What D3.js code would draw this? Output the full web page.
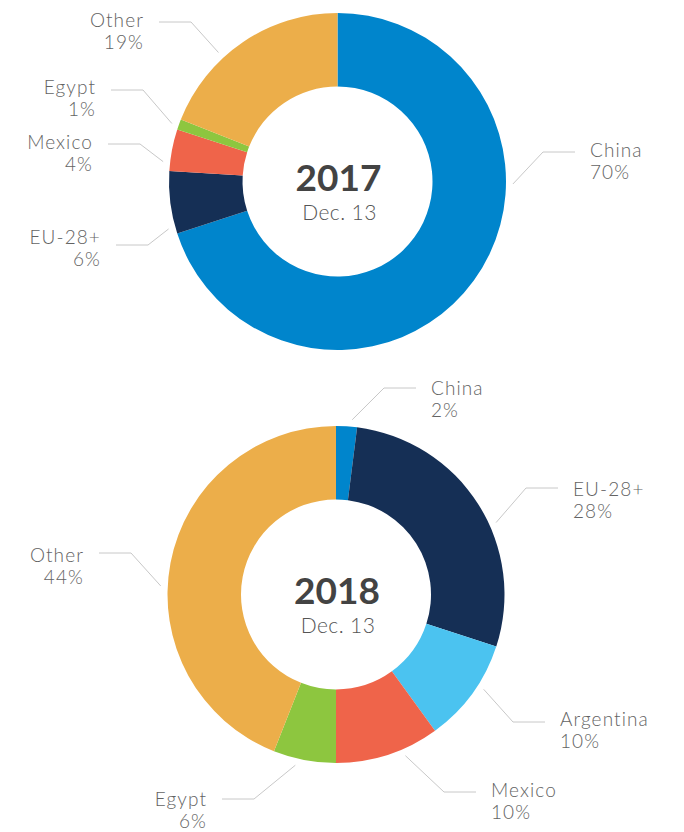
<!DOCTYPE html>
<html lang="en">
	<head>
		<meta charset="utf-8">
		<title>Donuts: 2017 vs 2018</title>
		<script type="text/javascript" src="https://cdn.jsdelivr.net/npm/d3@7"></script>
		<style type="text/css">
			body {
				margin: 0;
				background: #fff;
			}
			text {
				font-family: Lato, "Open Sans", sans-serif;
			}
			.lbl {
				font-size: 19px;
				font-weight: 300;
				letter-spacing: 1.1px;
				fill: #636363;
			}
			.year {
				font-size: 37px;
				font-weight: 700;
				fill: #434343;
				text-anchor: middle;
			}
			.date {
				font-size: 21px;
				font-weight: 300;
				letter-spacing: 0.4px;
				fill: #555;
				text-anchor: middle;
			}
			.leader {
				fill: none;
				stroke: #c8c8c8;
				stroke-width: 1;
			}
		</style>
	</head>
	<body>
		<script type="text/javascript">

			var w = 684;
			var h = 832;

			// data
			var years = ["2017", "2018"];
			var dateLabel = "Dec. 13";
			var countries2017 = ["China", "EU-28+", "Mexico", "Egypt", "Other"];
			var shares2017 = [70, 6, 4, 1, 19];
			var countries2018 = ["China", "EU-28+", "Argentina", "Mexico", "Egypt", "Other"];
			var shares2018 = [2, 28, 10, 10, 6, 44];

			var colors = d3.scaleOrdinal()
				.domain(["China", "EU-28+", "Argentina", "Mexico", "Egypt", "Other"])
				.range(["#0085cc", "#152f55", "#4bc3f0", "#ef644a", "#8dc63f", "#ecae4a"]);

			// label layout: leader angle (deg), text x, first baseline, leader y
			var layout2017 = [
				{a: 90.8, x: 590, y: 157, ly: 152},
				{a: 254.3, x: 101, y: 244, ly: 245},
				{a: 276.5, x: 93, y: 149, ly: 144},
				{a: 289.3, x: 96, y: 94, ly: 90},
				{a: 317.3, x: 144, y: 27, ly: 22}
			];
			var layout2018 = [
				{a: 5.3, x: 431, y: 395, ly: 388},
				{a: 65.8, x: 573, y: 496, ly: 488},
				{a: 122.7, x: 560, y: 726, ly: 722},
				{a: 156.7, x: 491, y: 797, ly: 792},
				{a: 193.4, x: 207, y: 806, ly: 799},
				{a: 272.8, x: 84, y: 562, ly: 553}
			];

			var charts = [
				{year: years[0], cx: 337.5, cy: 181.5, names: countries2017, values: shares2017, layout: layout2017},
				{year: years[1], cx: 336, cy: 594.5, names: countries2018, values: shares2018, layout: layout2018}
			];

			var outerR = 168.5;
			var innerR = 95;

			var svg = d3.select("body")
						.append("svg")
						.attr("width", w)
						.attr("height", h);

			var pie = d3.pie()
				.sort(null)
				.value(function(d) { return d.value; });

			var arc = d3.arc()
				.innerRadius(innerR)
				.outerRadius(outerR);

			charts.forEach(function(c) {
				var rows = c.names.map(function(n, i) {
					return {name: n, value: c.values[i], pos: c.layout[i]};
				});

				var g = svg.append("g")
					.attr("transform", "translate(" + c.cx + "," + c.cy + ")");

				g.selectAll("path.slice")
					.data(pie(rows))
					.enter()
					.append("path")
					.attr("class", "slice")
					.attr("d", arc)
					.attr("fill", function(d) { return colors(d.data.name); });

				g.append("text")
					.attr("class", "year")
					.attr("x", 1)
					.attr("y", 9)
					.text(c.year);

				g.append("text")
					.attr("class", "date")
					.attr("x", 2)
					.attr("y", 38)
					.text(dateLabel);

				// leader lines + labels, in page coordinates
				var lab = svg.append("g");

				rows.forEach(function(r) {
					var p = r.pos;
					var right = p.a < 180;
					var rad = p.a * Math.PI / 180;
					var sx = c.cx + Math.sin(rad) * (outerR + 7);
					var sy = c.cy - Math.cos(rad) * (outerR + 7);
					var dir = right ? 1 : -1;
					var ex = p.x - dir * 15;
					var kx = p.x - dir * 47;

					lab.append("path")
						.attr("class", "leader")
						.attr("d", d3.line()([[sx, sy], [kx, p.ly], [ex, p.ly]]));

					var t = lab.append("text")
						.attr("class", "lbl")
						.attr("text-anchor", right ? "start" : "end");
					t.append("tspan")
						.attr("x", p.x)
						.attr("y", p.y)
						.text(r.name);
					t.append("tspan")
						.attr("x", p.x)
						.attr("y", p.y + 22)
						.text(r.value + "%");
				});
			});

		</script>
	</body>
</html>
